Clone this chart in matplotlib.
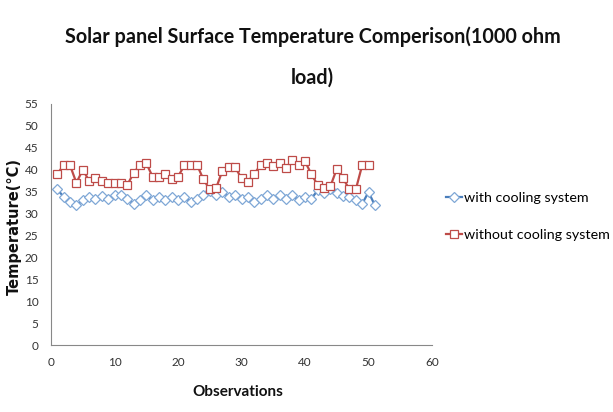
import matplotlib
matplotlib.use("Agg")
import matplotlib.pyplot as plt

obs_with = list(range(1, 52))
temp_with = [35.5, 33.8, 32.6, 31.9, 33.0, 33.8, 33.4, 34.0, 33.4, 34.2,
             34.3, 33.4, 32.2, 33.0, 34.2, 33.0, 33.8, 33.0, 33.8, 33.0,
             33.8, 32.6, 33.4, 34.2, 35.1, 34.2, 34.9, 33.8, 34.3, 33.4,
             33.8, 32.6, 33.4, 34.3, 33.4, 34.2, 33.4, 34.2, 33.0, 33.8,
             33.4, 35.3, 34.6, 35.7, 34.6, 34.0, 33.8, 33.0, 32.2, 34.9,
             31.9]
obs_without = list(range(1, 51))
temp_without = [39.0, 41.1, 41.0, 37.0, 40.0, 37.5, 38.0, 37.5, 37.0, 37.0,
                37.0, 36.5, 39.2, 41.1, 41.5, 38.4, 38.3, 39.0, 37.8, 38.4,
                41.0, 41.0, 41.1, 37.8, 35.5, 35.8, 39.8, 40.6, 40.6, 38.0,
                37.3, 39.0, 41.1, 41.6, 40.9, 41.6, 40.3, 42.2, 41.1, 41.9,
                39.0, 36.5, 35.8, 36.2, 40.2, 38.0, 35.5, 35.5, 41.0, 41.1]
series_names = ["with cooling system", "without cooling system"]
title_text = "Solar panel Surface Temperature Comperison(1000 ohm\nload)"
x_label = "Observations"
y_label = "Temperature(°C)"
x_ticks = [0, 10, 20, 30, 40, 50, 60]
y_ticks = [0, 5, 10, 15, 20, 25, 30, 35, 40, 45, 50, 55]

nfam = ["Lato", "DejaVu Sans"]

fig = plt.figure(figsize=(6.13, 4.12), dpi=100)
ax = fig.add_axes([51/613, 67/412, 381/613, 241/412])

ax.plot(obs_with, temp_with, color="#4A7EBB", lw=1.6, marker="D", ms=4.8,
        mfc="white", mec="#7FA7D6", mew=0.9, label=series_names[0])
ax.plot(obs_without, temp_without, color="#BE4B48", lw=1.6, marker="s", ms=5.2,
        mfc="white", mec="#BE4B48", mew=0.9, label=series_names[1])

ax.set_xlim(0, 60)
ax.set_ylim(0, 55)
ax.set_xticks(x_ticks)
ax.set_yticks(y_ticks)
for s in ["top", "right"]:
    ax.spines[s].set_visible(False)
for s in ["left", "bottom"]:
    ax.spines[s].set_color("#888888")
    ax.spines[s].set_linewidth(0.8)
ax.tick_params(length=0, pad=9, labelsize=8.5, colors="#333333")
for lab in ax.get_xticklabels() + ax.get_yticklabels():
    lab.set_family(nfam)

ax.set_xlabel(x_label, family=nfam, fontsize=11, fontweight="bold",
              color="#111111")
ax.xaxis.set_label_coords(0.49, -0.165)
ax.set_ylabel(y_label, family=["DejaVu Sans"], fontweight="bold", fontsize=10.5,
              color="#111111")
ax.yaxis.set_label_coords(-0.076, 0.49)

fig.text(0.51, 0.935, title_text, ha="center", va="top", family=nfam,
         fontsize=14.2, fontweight="bold", color="#111111", linespacing=2.3)

leg = fig.legend(loc="upper left", bbox_to_anchor=(0.718, 0.547), frameon=False,
                 prop={"family": nfam, "size": 10.3}, handlelength=1.1,
                 handletextpad=0.15, labelspacing=1.75, borderaxespad=0)

fig.savefig("out.png", dpi=100)
